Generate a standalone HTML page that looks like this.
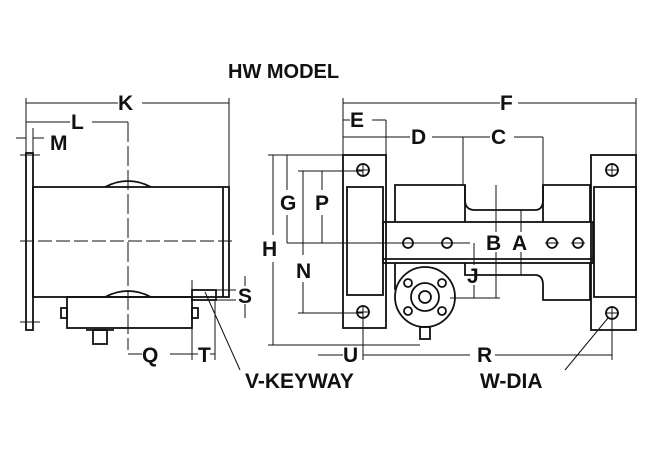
<!DOCTYPE html>
<html><head><style>
body{margin:0;background:#fff}
svg{display:block}
text{font-family:"Liberation Sans",sans-serif;font-weight:bold;fill:#111}
</style></head><body>
<svg width="650" height="460" viewBox="0 0 650 460" xmlns="http://www.w3.org/2000/svg">
<rect width="650" height="460" fill="#fff"/>
<text x="228" y="78" font-size="20">HW MODEL</text>
<g stroke="#111" stroke-width="1.8" fill="none">
<!-- LEFT VIEW -->
<rect x="26" y="153" width="7" height="177"/>
<rect x="33" y="187" width="196" height="110"/>
<line x1="223" y1="187" x2="223" y2="297"/>
<path d="M105 187 Q128 175 151 187"/>
<path d="M105 297 Q128 285 151 297"/>
<rect x="67" y="297" width="125" height="31"/>
<rect x="61" y="308" width="6" height="10"/><rect x="192" y="308" width="6" height="10"/>
<rect x="93" y="330" width="14" height="14"/><line x1="86" y1="330" x2="114" y2="330"/>
<rect x="192" y="290" width="24" height="10"/>
<g stroke-width="1">
<line x1="20" y1="241" x2="232" y2="241" stroke-dasharray="14,4"/>
<line x1="128" y1="122" x2="128" y2="350" stroke-dasharray="20,4"/>
<line x1="26" y1="98" x2="26" y2="153"/><line x1="229" y1="98" x2="229" y2="187"/>
<line x1="33" y1="128" x2="33" y2="153"/>
<line x1="26" y1="103" x2="118" y2="103"/><line x1="142" y1="103" x2="229" y2="103"/>
<line x1="26" y1="122" x2="70" y2="122"/><line x1="92" y1="122" x2="128" y2="122"/>
<line x1="16" y1="138" x2="26" y2="138"/><line x1="33" y1="138" x2="44" y2="138"/>
<line x1="192" y1="280" x2="192" y2="360"/><line x1="215" y1="300" x2="215" y2="360"/>
<line x1="128" y1="354" x2="142" y2="354"/><line x1="170" y1="354" x2="198" y2="354"/><line x1="210" y1="354" x2="215" y2="354"/>
<line x1="216" y1="290" x2="236" y2="290"/><line x1="216" y1="300" x2="236" y2="300"/>
<line x1="245" y1="276" x2="245" y2="286"/><line x1="245" y1="304" x2="245" y2="318"/>
<line x1="205" y1="292" x2="240" y2="370"/>
<line x1="20" y1="155" x2="40" y2="155"/><line x1="20" y1="322" x2="40" y2="322"/>
</g>
<!-- RIGHT VIEW -->
<rect x="343" y="155" width="43" height="173"/>
<rect x="347" y="187" width="36" height="108"/>
<rect x="591" y="155" width="45" height="175"/>
<rect x="594" y="187" width="42" height="110"/>
<rect x="383" y="222" width="210" height="41"/>
<line x1="383" y1="259" x2="593" y2="259"/>
<path d="M395 222 V185 H465 V222"/>
<path d="M465 185 V200 Q465 210 475 210 H535 Q543 210 543 200 V185"/>
<path d="M543 222 V185 H590 V222"/>
<path d="M395 263 V290 M465 263 V275 H535 Q543 275 543 285 V300 H590 V263"/>
<circle cx="425" cy="297" r="30"/>
<circle cx="425" cy="297" r="14"/><circle cx="425" cy="297" r="6"/>
<circle cx="408" cy="283" r="4"/><circle cx="442" cy="283" r="4"/><circle cx="408" cy="311" r="4"/><circle cx="442" cy="311" r="4"/>
<rect x="420" y="327" width="10" height="12"/>
<circle cx="363" cy="170" r="6"/><circle cx="363" cy="312" r="6"/>
<circle cx="612" cy="170" r="6"/><circle cx="612" cy="313" r="6"/>
<circle cx="408" cy="243" r="5"/><circle cx="447" cy="243" r="5"/><circle cx="552" cy="243" r="5"/><circle cx="578" cy="243" r="5"/>
<g stroke-width="1">
<path d="M356 170h14M363 163v14M356 312h14M363 305v14M605 170h14M612 163v14M605 313h14M612 306v14"/>
<path d="M401 243h14M440 243h14M545 243h14M571 243h14"/>
<line x1="343" y1="98" x2="343" y2="155"/><line x1="636" y1="98" x2="636" y2="155"/>
<line x1="343" y1="103" x2="500" y2="103"/><line x1="518" y1="103" x2="636" y2="103"/>
<line x1="343" y1="120" x2="350" y2="120"/><line x1="372" y1="120" x2="386" y2="120"/><line x1="386" y1="120" x2="386" y2="155"/>
<line x1="343" y1="137" x2="410" y2="137"/><line x1="432" y1="137" x2="490" y2="137"/><line x1="514" y1="137" x2="543" y2="137"/>
<line x1="463" y1="137" x2="463" y2="185"/><line x1="543" y1="137" x2="543" y2="185"/>
<line x1="268" y1="155" x2="343" y2="155"/><line x1="268" y1="345" x2="420" y2="345"/>
<line x1="273" y1="155" x2="273" y2="235"/><line x1="273" y1="262" x2="273" y2="345"/>
<line x1="287" y1="155" x2="287" y2="190"/><line x1="287" y1="215" x2="287" y2="243"/>
<line x1="287" y1="243" x2="470" y2="243"/>
<line x1="298" y1="171" x2="363" y2="171"/><line x1="298" y1="313" x2="363" y2="313"/>
<line x1="303" y1="171" x2="303" y2="255"/><line x1="303" y1="282" x2="303" y2="313"/>
<line x1="322" y1="171" x2="322" y2="190"/><line x1="322" y1="215" x2="322" y2="243"/>
<line x1="496" y1="185" x2="496" y2="232"/><line x1="496" y1="252" x2="496" y2="298"/>
<line x1="521" y1="210" x2="521" y2="232"/><line x1="521" y1="252" x2="521" y2="275"/>
<line x1="474" y1="243" x2="474" y2="265"/><line x1="474" y1="285" x2="474" y2="298"/>
<line x1="450" y1="298" x2="500" y2="298"/>
<line x1="363" y1="313" x2="363" y2="360"/><line x1="612" y1="320" x2="612" y2="360"/>
<line x1="318" y1="355" x2="343" y2="355"/><line x1="363" y1="355" x2="470" y2="355"/><line x1="495" y1="355" x2="612" y2="355"/>
<line x1="608" y1="318" x2="565" y2="370"/>
</g>
</g>
<g font-size="21">
<text x="118" y="110">K</text><text x="71" y="129">L</text><text x="50" y="150">M</text>
<text x="142" y="362">Q</text><text x="198" y="362">T</text><text x="238" y="303">S</text>
<text x="245" y="388">V-KEYWAY</text>
<text x="500" y="110">F</text><text x="350" y="127">E</text><text x="411" y="144">D</text><text x="491" y="144">C</text>
<text x="262" y="256">H</text><text x="280" y="210">G</text><text x="315" y="210">P</text><text x="296" y="278">N</text>
<text x="486" y="250">B</text><text x="512" y="250">A</text><text x="467" y="283">J</text>
<text x="343" y="362">U</text><text x="477" y="362">R</text><text x="480" y="388">W-DIA</text>
</g>
</svg>
</body></html>
